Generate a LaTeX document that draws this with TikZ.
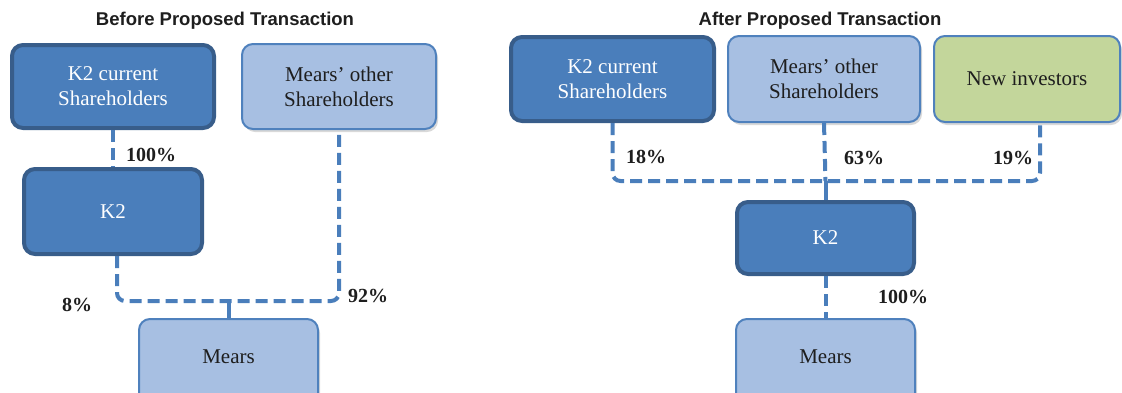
\documentclass[tikz,border=0pt]{standalone}
\usepackage{fontspec}
\setmainfont{Liberation Serif}
\newfontfamily\titlefont{Liberation Sans}
\usetikzlibrary{shadows}

\definecolor{darkfill}{HTML}{4A7EBB}
\definecolor{darkline}{HTML}{385D8A}
\definecolor{lightfill}{HTML}{A7BFE2}
\definecolor{lightline}{HTML}{4F81BD}
\definecolor{greenfill}{HTML}{C3D69B}
\definecolor{txt}{HTML}{1E1E1E}

\tikzset{
  box/.style={rectangle, rounded corners=11pt, align=center, inner sep=2pt,
    font=\fontsize{21}{25}\selectfont},
  darkbox/.style={box, fill=darkfill, draw=darkline, line width=4pt, text=white},
  lightbox/.style={box, fill=lightfill, draw=lightline, line width=2pt, text=txt,
    drop shadow={opacity=0.3, shadow xshift=2pt, shadow yshift=-3pt}},
  greenbox/.style={lightbox, fill=greenfill},
  pct/.style={font=\fontsize{20}{24}\selectfont\bfseries, text=txt, inner sep=0pt},
  heading/.style={font=\titlefont\fontsize{18.5}{22}\selectfont\bfseries, text=txt, inner sep=0pt},
  link/.style={draw=darkfill, line width=4pt, dash pattern=on 12pt off 6pt, rounded corners=8pt},
  stem/.style={draw=darkfill, line width=4pt}
}

\begin{document}
\begin{tikzpicture}[x=1pt, y=-1pt]
    \useasboundingbox (0, 0) rectangle (1122, 392);

    % before
    \node[heading] (t) at (225, 21) {Before Proposed Transaction};
    \node[darkbox, minimum width=202pt, minimum height=83pt] (a) at (113, 86.5) {K2 current\\Shareholders};
    \node[lightbox, minimum width=194pt, minimum height=85pt] (b) at (339, 86.5) {Mears’ other\\Shareholders};
    \node[darkbox, minimum width=178pt, minimum height=85pt] (c) at (113, 211.5) {K2};
    \node[lightbox, minimum width=179pt, minimum height=100pt] (d) at (228.5, 369) {};
    \node[box, text=txt] (dl) at (228.5, 357) {Mears};
    \coordinate (s) at (117, 256);
    \coordinate (j) at (228.5, 301);

    \draw [link] (a) -- (c);
    \draw [link] (s) |- (j) -| (b.south);
    \draw [stem] (j) -- (d.north);
    \node[pct] (p1) at (151, 155) {100\%};
    \node[pct] (p2) at (77, 305) {8\%};
    \node[pct] (p3) at (368, 296) {92\%};

    % after
    \node[heading] (t) at (820, 21) {After Proposed Transaction};
    \node[darkbox, minimum width=203pt, minimum height=84pt] (a) at (612.5, 79) {K2 current\\Shareholders};
    \node[lightbox, minimum width=192pt, minimum height=86pt] (b) at (824, 79) {Mears’ other\\Shareholders};
    \node[greenbox, minimum width=186pt, minimum height=86pt] (e) at (1027, 79) {New investors};
    \node[darkbox, minimum width=177pt, minimum height=72pt] (c) at (825.5, 238) {K2};
    \node[lightbox, minimum width=179pt, minimum height=100pt] (d) at (825.5, 369) {};
    \node[box, text=txt] (dl) at (825.5, 357) {Mears};
    \coordinate (n) at (1040, 123);
    \coordinate (j) at (825.5, 181);

    \draw [link] (a.south) |- (j) -| (n);
    \draw [link] (b.south) -- (j);
    \draw [stem] (j) -- (c.north);
    \draw [link] (c) -- (d);
    \node[pct] (p1) at (646, 157) {18\%};
    \node[pct] (p2) at (864, 158) {63\%};
    \node[pct] (p3) at (1013, 158) {19\%};
    \node[pct] (p4) at (903, 297) {100\%};

\end{tikzpicture}
\end{document}
